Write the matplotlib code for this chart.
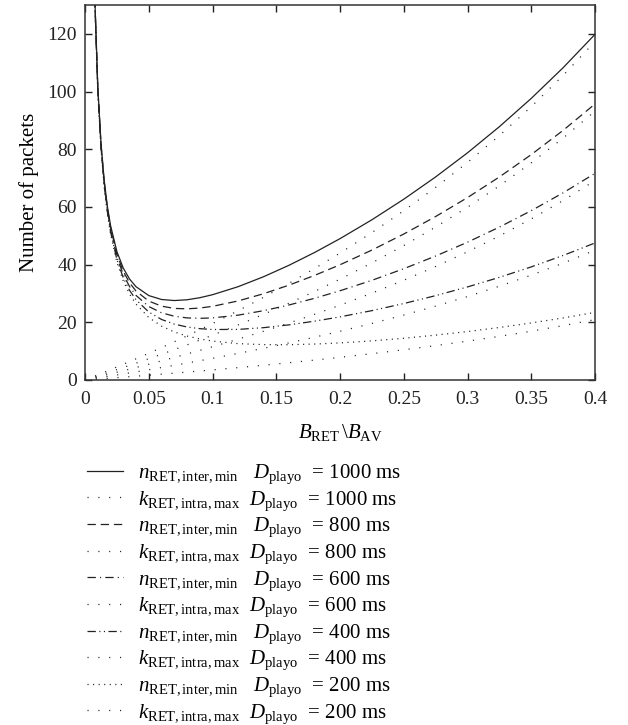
import numpy as np
import matplotlib
matplotlib.use("Agg")
import matplotlib.pyplot as plt

plt.rcParams['font.family'] = ['Liberation Serif', 'DejaVu Serif']
plt.rcParams['mathtext.fontset'] = 'custom'
plt.rcParams['mathtext.rm'] = 'Liberation Serif'
plt.rcParams['mathtext.it'] = 'Liberation Serif:italic'
plt.rcParams['lines.scale_dashes'] = False

# B_RET/B_AV sample points
x_n = [0.0075, 0.01, 0.0125, 0.015, 0.0175, 0.02, 0.025, 0.03, 0.035, 0.04,
       0.05, 0.06, 0.07, 0.08, 0.09, 0.1, 0.12, 0.14, 0.16, 0.18, 0.2,
       0.225, 0.25, 0.275, 0.3, 0.325, 0.35, 0.375, 0.4]
x_k = [0.0, 0.005] + x_n

# n_RET,inter,min
n_1000 = [134.66, 101.78, 82.23, 69.35, 60.27, 53.59, 44.51, 38.77, 34.95, 32.33,
          29.26, 27.90, 27.54, 27.80, 28.52, 29.56, 32.33, 35.79, 39.77, 44.19, 49.00,
          55.54, 62.67, 70.40, 78.76, 87.82, 97.63, 108.27, 119.83]
n_800 = [134.39, 101.41, 81.77, 68.80, 59.63, 52.85, 43.58, 37.65, 33.64, 30.83,
         27.36, 25.59, 24.81, 24.66, 24.94, 25.53, 27.39, 29.90, 32.88, 36.25, 39.95,
         45.03, 50.60, 56.67, 63.24, 70.39, 78.14, 86.55, 95.70]
n_600 = [134.11, 101.05, 81.31, 68.25, 58.99, 52.12, 42.66, 36.54, 32.33, 29.32,
         25.46, 23.29, 22.10, 21.52, 21.37, 21.52, 22.47, 24.02, 26.00, 28.32, 30.93,
         34.55, 38.57, 42.97, 47.77, 53.01, 58.70, 64.89, 71.63]
n_400 = [133.84, 100.68, 80.85, 67.70, 58.34, 51.38, 41.73, 35.42, 31.02, 27.81,
         23.55, 20.98, 19.37, 18.37, 17.79, 17.50, 17.53, 18.13, 19.11, 20.38, 21.88,
         24.04, 26.50, 29.24, 32.26, 35.58, 39.21, 43.17, 47.50]
n_200 = [133.57, 100.32, 80.40, 67.15, 57.70, 50.64, 40.81, 34.30, 29.71, 26.31,
         21.65, 18.67, 16.65, 15.23, 14.22, 13.49, 12.61, 12.25, 12.23, 12.45, 12.85,
         13.56, 14.47, 15.55, 16.79, 18.20, 19.77, 21.51, 23.43]

# k_RET,intra,max
k_1000 = [0.0, 0.88, 1.33, 1.78, 2.23, 2.68, 3.13, 3.59, 4.51, 5.44, 6.38, 7.33,
          9.26, 11.23, 13.25, 15.30, 17.41, 19.56, 24.00, 28.65, 33.52, 38.63, 44.00,
          51.10, 58.67, 66.76, 75.43, 84.74, 94.77, 105.60, 117.33]
k_800 = [0.0, 0.70, 1.06, 1.41, 1.77, 2.13, 2.49, 2.85, 3.58, 4.32, 5.07, 5.83,
         7.36, 8.92, 10.52, 12.16, 13.83, 15.53, 19.06, 22.76, 26.63, 30.69, 34.95,
         40.59, 46.60, 53.03, 59.91, 67.31, 75.28, 83.88, 93.20]
k_600 = [0.0, 0.52, 0.78, 1.05, 1.31, 1.58, 1.85, 2.12, 2.66, 3.21, 3.76, 4.32,
         5.46, 6.62, 7.81, 9.02, 10.26, 11.52, 14.14, 16.88, 19.75, 22.76, 25.93,
         30.11, 34.57, 39.33, 44.44, 49.93, 55.84, 62.22, 69.13]
k_400 = [0.0, 0.34, 0.51, 0.68, 0.85, 1.03, 1.20, 1.38, 1.73, 2.09, 2.45, 2.81,
         3.55, 4.31, 5.08, 5.87, 6.68, 7.50, 9.20, 10.99, 12.86, 14.82, 16.88,
         19.60, 22.50, 25.60, 28.93, 32.50, 36.35, 40.50, 45.00]
k_200 = [0.0, 0.16, 0.24, 0.32, 0.40, 0.48, 0.56, 0.64, 0.81, 0.97, 1.14, 1.31,
         1.65, 2.00, 2.36, 2.73, 3.11, 3.49, 4.28, 5.11, 5.98, 6.89, 7.85,
         9.12, 10.47, 11.91, 13.46, 15.12, 16.91, 18.84, 20.93]

delays = [1000, 800, 600, 400, 200]
n_series = [n_1000, n_800, n_600, n_400, n_200]
k_series = [k_1000, k_800, k_600, k_400, k_200]
n_styles = ['-', (0, (6, 3.5)), (0, (6, 3, 0.8, 3)),
            (0, (6, 2.5, 0.8, 2.5, 0.8, 2.5)), (0, (0.8, 3.2))]
k_style = (0, (0.8, 7))

col = '#222222'
fig = plt.figure(figsize=(6.28, 7.25), dpi=100)
ax = fig.add_axes([0.1354, 0.4759, 0.8121, 0.5172])

for d, n, k, ls in zip(delays, n_series, k_series, n_styles):
    ax.plot(x_n, n, ls=ls, color=col, lw=0.9,
            label=r'$n_{\mathrm{RET,inter,min}}$   $D_{\mathrm{playo}}$  = %d ms' % d)
    ax.plot(x_k, k, ls=k_style, color=col, lw=0.9,
            label=r'$k_{\mathrm{RET,intra,max}}$  $D_{\mathrm{playo}}$  = %d ms' % d)

ax.set_xlim(0, 0.4)
ax.set_ylim(0, 130)
ax.set_xticks([0, 0.05, 0.1, 0.15, 0.2, 0.25, 0.3, 0.35, 0.4])
ax.set_xticklabels(['0', '0.05', '0.1', '0.15', '0.2', '0.25', '0.3', '0.35', '0.4'])
ax.set_yticks([0, 20, 40, 60, 80, 100, 120])
ax.tick_params(direction='in', top=True, right=True, length=5, width=1,
               labelsize=14, colors='#222222')
ax.tick_params(axis='x', pad=8)
ax.tick_params(axis='y', pad=6)
for s in ax.spines.values():
    s.set_linewidth(1.1)
    s.set_color('#333333')

ax.set_xlabel(r'$B_{\mathrm{RET}}\,\backslash B_{\mathrm{AV}}$', fontsize=15, labelpad=10)
ax.set_ylabel('Number of packets', fontsize=15, labelpad=6)

fig.legend(loc='upper left', bbox_to_anchor=(0.1385, 0.362), frameon=False,
           fontsize=15, handlelength=1.75, handletextpad=0.72, labelspacing=0.15,
           borderpad=0, borderaxespad=0)

fig.savefig('out.png', dpi=100)
